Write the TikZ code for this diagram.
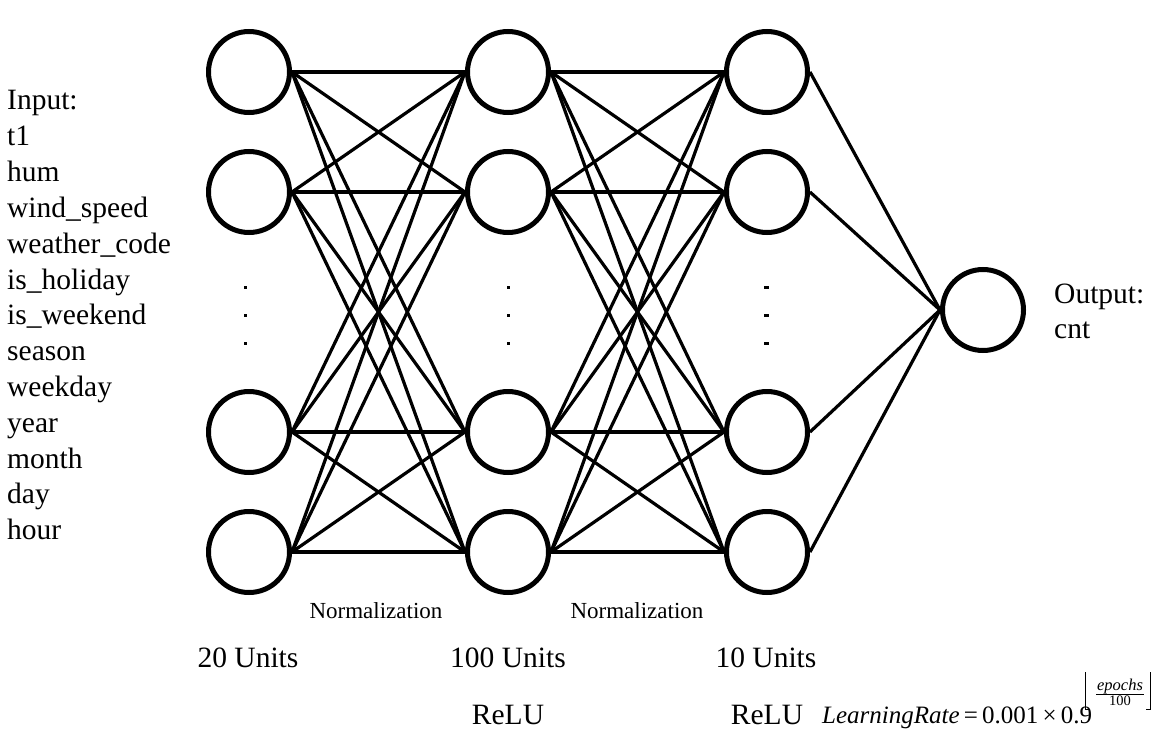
\documentclass[tikz,border=0pt]{standalone}
\usepackage{fontspec}
\setmainfont{Liberation Serif}
\begin{document}
\begin{tikzpicture}[x=1pt,y=-1pt,
  neuron/.style={circle,draw,line width=5pt,minimum size=81pt,inner sep=0pt},
  link/.style={line width=3.2pt},
  lbl/.style={font=\fontsize{29.5}{36}\selectfont,inner sep=0pt},
  smalllbl/.style={font=\fontsize{23}{27}\selectfont,inner sep=0pt},
  dotm/.style={fill=black,inner sep=0pt,minimum width=3pt,minimum height=3pt},
  dashm/.style={fill=black,inner sep=0pt,minimum width=5pt,minimum height=3pt},
  thinline/.style={line width=1pt}]
\useasboundingbox (0,0) rectangle (1155,730);
% neurons
\foreach \x/\l in {249/a,508/b,767/c}{
  \foreach \y/\i in {72/1,192/2,432/3,552/4}{
    \node[neuron] (\l\i) at (\x,\y) {};
  }
}
\node[neuron] (o) at (983,310) {};
% connections
\foreach \i in {1,...,4}{
  \foreach \j in {1,...,4}{
    \draw[link] (a\i.east) -- (b\j.west);
    \draw[link] (b\i.east) -- (c\j.west);
  }
}
\foreach \i in {1,...,4}{
  \draw[link] (c\i.east) -- (o.west);
}
% ellipsis dots
\foreach \y/\k in {287/1,315/2,343/3}{
  \node[dotm] (da\k) at (245,\y) {};
  \node[dotm] (db\k) at (508,\y) {};
  \node[dashm] (dc\k) at (766,\y) {};
}
% input labels
\foreach [count=\k from 0] \t in {Input:,t1,hum,wind\_speed,weather\_code,is\_holiday,is\_weekend,season,weekday,year,month,day,hour}{
  \node[lbl,anchor=base west] (in\k) at (7,{110+35.8*\k}) {\t};
}
% output labels
\node[lbl,anchor=base west] (out1) at (1054,303) {Output:};
\node[lbl,anchor=base west] (out2) at (1054,338) {cnt};
% normalization
\node[smalllbl,anchor=base] (n1) at (376,618) {Normalization};
\node[smalllbl,anchor=base] (n2) at (637,618) {Normalization};
% units
\node[lbl,anchor=base] (u1) at (248,667) {20 Units};
\node[lbl,anchor=base] (u2) at (508,667) {100 Units};
\node[lbl,anchor=base] (u3) at (766,667) {10 Units};
\node[lbl,anchor=base] (r2) at (508,724) {ReLU};
\node[lbl,anchor=base] (r3) at (767,724) {ReLU};
% learning rate formula
\node[anchor=base west,inner sep=0pt,font=\fontsize{25}{30}\selectfont] (lr) at (822,723) {\textit{LearningRate}\,=\,0.001\,×\,0.9};
\node[anchor=base,inner sep=0pt,font=\fontsize{16.5}{18}\selectfont\itshape] (ep) at (1120,690) {epochs};
\node[anchor=base,inner sep=0pt,font=\fontsize{14.5}{16}\selectfont] (hd) at (1120,705) {100};
\coordinate (fb1) at (1096,694);
\coordinate (fb2) at (1144,694);
\draw[thinline] (fb1) -- (fb2);
\coordinate (lb1) at (1089,709);
\coordinate (lb2) at (1085,709);
\coordinate (lb3) at (1085,672);
\draw[thinline] (lb1) -- (lb2) -- (lb3);
\coordinate (rb1) at (1146,709);
\coordinate (rb2) at (1150,709);
\coordinate (rb3) at (1150,672);
\draw[thinline] (rb1) -- (rb2) -- (rb3);
\end{tikzpicture}
\end{document}
